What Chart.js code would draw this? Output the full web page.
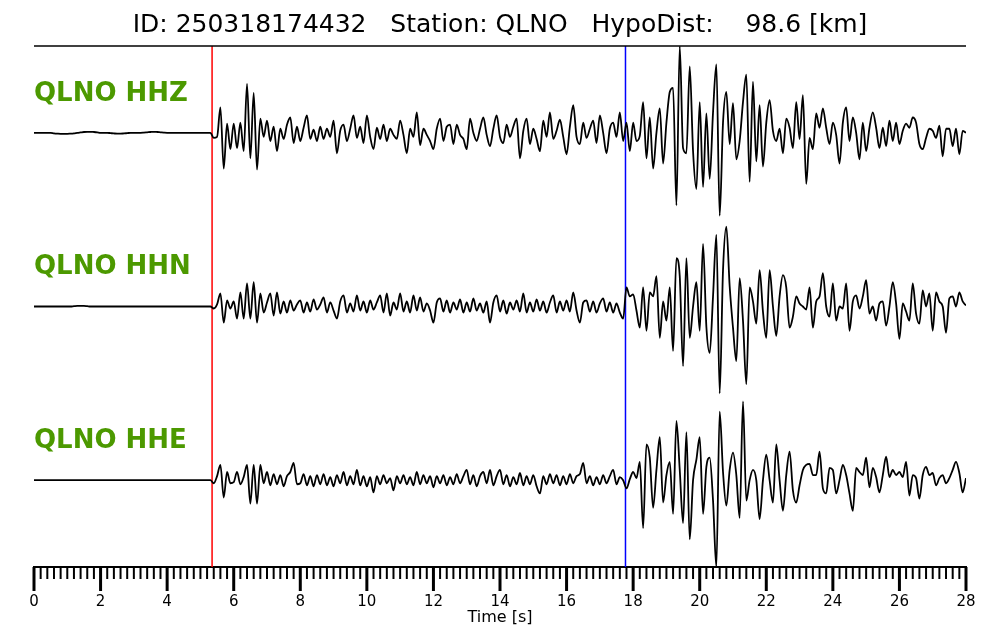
<!DOCTYPE html>
<html lang="en">
<head>
<meta charset="UTF-8">
<title>QLNO waveforms</title>
<script src="https://cdn.jsdelivr.net/npm/chart.js@4.4.0/dist/chart.umd.min.js"></script>
<style>
    html, body { margin: 0; padding: 0; background: #fff; }
    #wrap { width: 1000px; height: 640px; position: relative; }
</style>
</head>
<body>
<div id="wrap"><canvas id="seis"></canvas></div>
<script>
// event / station info
const eventId = '250318174432';
const station = 'QLNO';
const hypoDist = 98.6;
const channels = ['HHZ', 'HHN', 'HHE'];

// picks [s]
const pickP = 5.35;
const pickS = 17.77;

// time axis
const sampleRate = 10;          // samples per second
const tMax = 28;
const minorStep = 0.2;
const majorStep = 2;

// amplitudes (arbitrary counts, normalised per trace)
const hhz = [
    0, 0, 0, 0, 0, 0, -0.5, -0.8, -1, -1,
    -1, -0.8, -0.5, 0, 0.4, 0.8, 1, 1, 0.8, 0.5,
    0, 0, 0, -0.3, -0.6, -0.8, -0.8, -0.6, -0.3, 0,
    0, 0, 0, 0.2, 0.5, 0.8, 1, 0.8, 0.5, 0.2,
    0, 0, 0, 0, 0, 0, 0, 0, 0, 0,
    0, 0, 0, 0, -5, -4, 25, -35, 9, -16,
    9, -15, 10, -18, 48, -25, 39, -36, 14, -4,
    12, -8, 6, -18, 4, -6, 8, 15, -10, 6,
    -8, 5, 17, -6, 3, -8, 6, -6, 4, -4,
    12, -20, 2, 8, -8, 4, 17, -5, 6, -10,
    17, -4, -16, 5, -6, 8, -8, 4, -2, -6,
    12, -2, -20, 4, -4, 20, -12, 4, -2, -8,
    -16, 4, 14, -8, 6, 8, -11, 8, -2, -6,
    -16, 14, 0, -8, 4, 15, -2, -13, 4, 17,
    -4, -10, 8, -4, 6, 14, -25, 2, 14, -11,
    4, -6, -18, 12, -4, 20, -6, 2, 13, -4,
    -21, 6, 27, -4, -11, 10, -5, 4, 12, -10,
    17, 0, -20, 4, 10, -4, 20, -8, 10, -18,
    10, -8, -3, 30, -25, 15, -35, 0, 24, -30,
    10, 40, 44, -71, 85, -15, -20, 65, -18, -55,
    30, -53, 19, -45, 20, 67, -81, 10, 40, -11,
    29, -26, -8, 30, 57, -48, 50, -28, 27, -33,
    10, 32, 2, -8, 4, -20, 14, 5, -15, 30,
    -6, 37, -50, -5, -16, 19, 5, 24, 5, -11,
    10, -2, -30, 10, 25, -8, 15, 0, -26, 10,
    -18, 5, 20, 5, -15, 5, -13, 12, -8, 10,
    -11, 2, 9, 5, 15, 10, -11, -16, -5, 4,
    2, -5, 7, -23, 4, 4, -13, 4, -21, 2,
    0
];
const hhn = [
    0, 0, 0, 0, 0, 0, 0, 0, 0, 0,
    0, 0, 0.3, 0.6, 0.6, 0.6, 0.3, 0, 0, 0,
    0, 0, 0, 0, 0, 0, 0, 0, 0, 0,
    0, 0, 0, 0, 0, 0, 0, 0, 0, 0,
    0, 0, 0, 0, 0, 0, 0, 0, 0, 0,
    0, 0, 0, 0, -2, 2, 13, -16, 6, -2,
    5, -12, 14, -12, 23, -12, 24, -16, 13, -6,
    4, 13, -9, 14, -7, 5, -6, 6, -4, 2,
    6, -6, 4, -5, 7, -3, 2, 9, -6, 4,
    -4, -12, 5, 11, -6, 3, -5, 11, -4, 5,
    -6, 6, -3, 4, 11, -6, 13, -9, 4, -3,
    13, -5, 5, -6, 11, -4, 9, -5, 3, -4,
    -16, 4, 8, -5, 6, -6, 4, -3, 7, -6,
    4, -5, 8, -4, 3, -6, 5, -16, 4, 11,
    -5, 6, -7, 4, -3, 6, -5, 13, -6, 4,
    -5, 7, -4, 5, -6, 4, 11, -6, 5, -4,
    6, -5, 14, -4, -16, 4, 6, -5, 5, -6,
    3, 8, -5, 4, -6, 3, -6, -12, 19, 10,
    12, -4, -21, 19, -24, 14, 10, 30, -31, 5,
    -14, 19, -44, 48, 30, -59, 48, -31, 0, 24,
    -24, 62, -20, -46, 10, 71, -86, 36, 79, 20,
    -21, -54, 28, -14, -77, 19, 5, -17, 36, -5,
    -31, 36, 0, -29, 10, 31, 19, -21, -10, 10,
    3, 0, -3, 19, -21, 5, 10, 33, 0, -10,
    23, -14, 0, -2, 23, -24, 5, 11, -2, 10,
    26, -7, 0, -14, 3, 5, -19, 0, 24, 3,
    -32, 3, -5, -14, 23, -7, -17, 16, 0, 13,
    -24, 14, 5, 0, -26, 8, 10, 0, 14, 5,
    1
];
const hhe = [
    0, 0, 0, 0, 0, 0, 0, 0, 0, 0,
    0, 0, 0, 0, 0, 0, 0, 0, 0, 0,
    0, 0, 0, 0, 0, 0, 0, 0, 0, 0,
    0, 0, 0, 0, 0, 0, 0, 0, 0, 0,
    0, 0, 0, 0, 0, 0, 0, 0, 0, 0,
    0, 0, 0, 0, -3, 4, 15, -17, 8, -3,
    -2, 8, -4, 3, 15, -23, 15, -23, 15, -3,
    8, -5, 6, -4, 5, -6, 4, 8, 17, -4,
    -3, 6, -5, 4, -6, 5, -4, 6, -5, 3,
    -6, 5, -3, 8, -5, 4, -4, 10, -5, 4,
    -6, 3, -12, 4, -4, 5, -3, 2, -10, 4,
    -3, 5, -4, 3, -5, 8, -4, 5, -3, 4,
    -7, 4, -3, 5, -5, 3, -4, 6, -3, 4,
    10, -4, 5, -6, 4, 8, -3, 10, -5, 4,
    10, -4, 5, -6, 3, -4, 7, -5, 4, -4,
    5, -6, -13, 4, -4, 6, -3, 5, -5, 4,
    -4, 6, -3, 4, 6, 17, -3, 4, -5, 3,
    -4, 5, -3, 4, 10, -4, 3, 0, -8, 1,
    8, 2, 18, -47, 35, 22, -27, 10, 42, -22,
    5, 18, -33, 58, 10, -42, 47, -58, 0, 20,
    42, -33, 13, 22, -20, -85, 67, 8, -25, 10,
    27, 5, -37, 77, -20, 0, 10, 0, -38, 0,
    25, 0, -22, 35, 0, -30, 5, 28, -10, -22,
    -5, 10, 15, 16, 5, 5, 28, -8, -13, 12,
    10, -13, 0, 15, 5, -13, -30, 12, 8, 5,
    22, -7, 12, 3, -12, 5, 23, 3, 10, 5,
    8, 3, 18, -15, 5, 2, -18, 5, 13, 5,
    7, -5, 2, 5, -3, 2, 10, 18, 7, -12,
    2
];
const traces = [hhz, hhn, hhe];

Chart.defaults.font.family = '"DejaVu Sans", sans-serif';
Chart.defaults.color = '#000';

const yMin = -channels.length;
const yMax = 0;

// each trace normalised to its peak, stacked one unit apart
function traceData(vals, k) {
    const peak = Math.max(...vals.map(Math.abs));
    return vals.map((v, i) => ({ x: i / sampleRate, y: -(k + 0.5) + 0.5 * v / peak }));
}

function isMajor(v) {
    return Math.abs(v / majorStep - Math.round(v / majorStep)) < 1e-6;
}

const datasets = traces.map((vals, k) => ({
    label: station + ' ' + channels[k],
    data: traceData(vals, k),
    borderColor: '#000',
    borderWidth: 1.8,
    pointRadius: 0,
    cubicInterpolationMode: 'monotone'
}));
datasets.push({
    label: 'P',
    data: [{ x: pickP, y: yMin }, { x: pickP, y: yMax }],
    borderColor: '#ff0000',
    borderWidth: 1.5,
    pointRadius: 0
});
datasets.push({
    label: 'S',
    data: [{ x: pickS, y: yMin }, { x: pickS, y: yMax }],
    borderColor: '#0000ff',
    borderWidth: 1.5,
    pointRadius: 0
});

// top frame line, channel names and the tick marks
const decor = {
    id: 'decor',
    afterDatasetsDraw(chart) {
        const { ctx, chartArea: a, scales: { y } } = chart;
        ctx.save();
        ctx.strokeStyle = '#000';
        ctx.lineWidth = 1.5;
        ctx.beginPath();
        ctx.moveTo(a.left, a.top);
        ctx.lineTo(a.right, a.top);
        ctx.stroke();
        ctx.fillStyle = '#4c9900';
        ctx.font = 'bold 26px "DejaVu Sans"';
        ctx.textBaseline = 'middle';
        ctx.textAlign = 'left';
        channels.forEach((ch, k) => {
            ctx.fillText(station + ' ' + ch, a.left, y.getPixelForValue(-(k + 0.5) + 0.225));
        });
        ctx.restore();
    },
    afterDraw(chart) {
        const { ctx, scales: { x } } = chart;
        ctx.save();
        ctx.strokeStyle = '#000';
        x.ticks.forEach(t => {
            const px = x.getPixelForValue(t.value);
            const major = isMajor(t.value);
            ctx.lineWidth = major ? 3 : 2;
            ctx.beginPath();
            ctx.moveTo(px, x.top);
            ctx.lineTo(px, x.top + (major ? 24 : 12));
            ctx.stroke();
        });
        ctx.restore();
    }
};

new Chart(document.getElementById('seis'), {
    type: 'line',
    data: { datasets },
    options: {
        responsive: true,
        maintainAspectRatio: false,
        animation: false,
        layout: { padding: { left: 34, right: 34, top: 0, bottom: 0 } },
        plugins: {
            legend: { display: false },
            tooltip: { enabled: false },
            title: {
                display: true,
                text: `ID: ${eventId}   Station: ${station}   HypoDist:    ${hypoDist.toFixed(1)} [km]`,
                font: { size: 25, weight: 'normal' },
                color: '#000',
                padding: { top: 10, bottom: 6 }
            }
        },
        scales: {
            x: {
                type: 'linear',
                min: 0,
                max: tMax,
                border: { display: true, color: '#000', width: 2 },
                grid: { display: true, drawOnChartArea: false, drawTicks: true, tickLength: 24, tickColor: 'transparent' },
                ticks: {
                    stepSize: minorStep,
                    autoSkip: false,
                    maxRotation: 0,
                    minRotation: 0,
                    padding: 2,
                    font: { size: 15 },
                    color: '#000',
                    callback: v => (isMajor(v) ? String(Math.round(v)) : '')
                },
                title: {
                    display: true,
                    text: 'Time [s]',
                    font: { size: 16 },
                    color: '#000',
                    padding: { top: 0, bottom: 13 }
                },
                afterFit(scale) { scale.height = 73; }
            },
            y: {
                display: false,
                min: yMin,
                max: yMax
            }
        }
    },
    plugins: [decor]
});
</script>
</body>
</html>
